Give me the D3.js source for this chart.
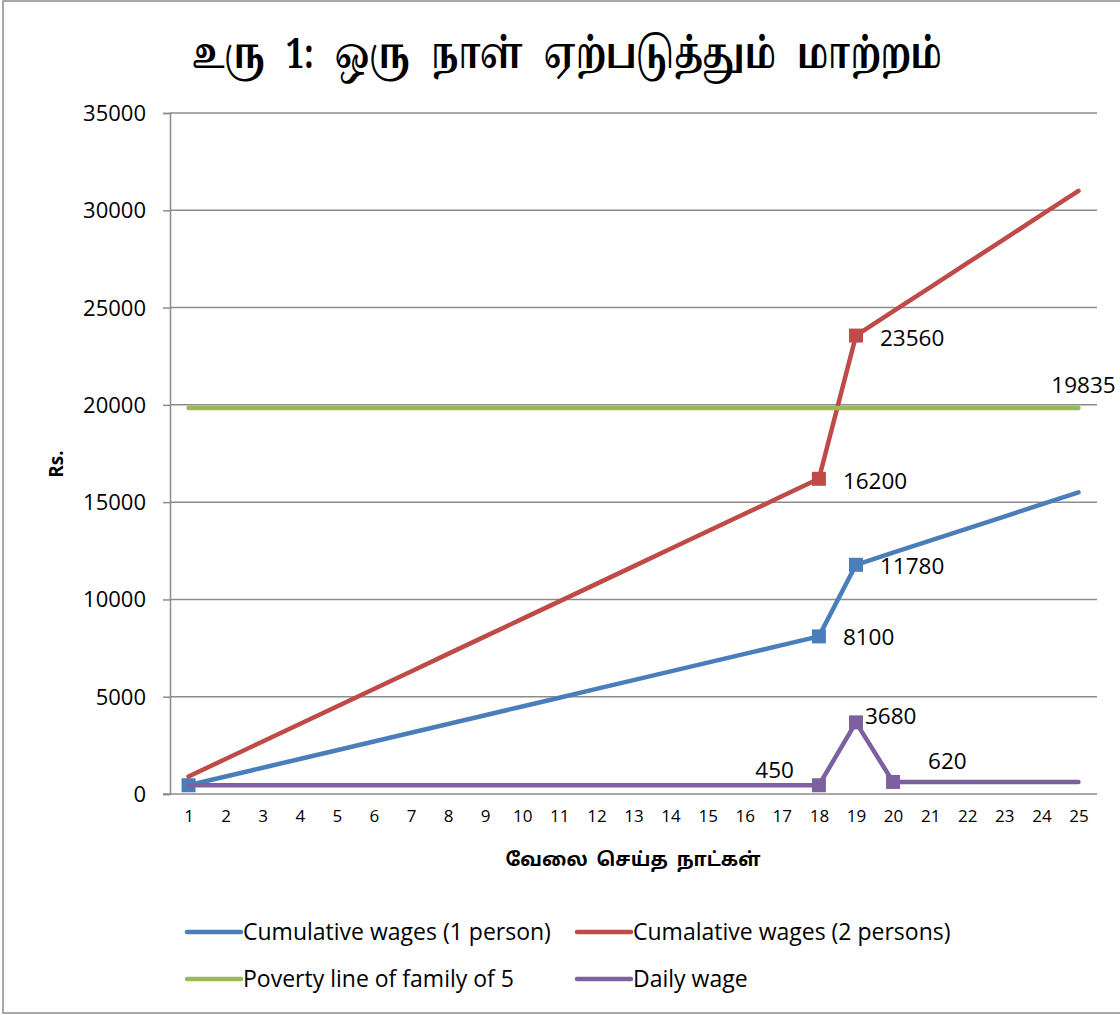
<!DOCTYPE html>
<html>
<head>
<meta charset="utf-8">
<script src="https://cdn.jsdelivr.net/npm/d3@7"></script>
<style>
  body { margin: 0; background: #fff; }
  svg text { font-family: "Open Sans", "Noto Sans", sans-serif; fill: #000; }
</style>
</head>
<body>
<div id="chart"></div>
<script>
// days worked
var days = d3.range(1, 26);

// series values
var oneWage = [450, 900, 1350, 1800, 2250, 2700, 3150, 3600, 4050, 4500, 4950, 5400, 5850, 6300, 6750, 7200, 7650, 8100,
               11780, 12400, 13020, 13640, 14260, 14880, 15500];
var twoWage = [900, 1800, 2700, 3600, 4500, 5400, 6300, 7200, 8100, 9000, 9900, 10800, 11700, 12600, 13500, 14400, 15300, 16200,
               23560, 24800, 26040, 27280, 28520, 29760, 31000];
var povertyLine = days.map(function() { return 19835; });
var dailyWage = [450, 450, 450, 450, 450, 450, 450, 450, 450, 450, 450, 450, 450, 450, 450, 450, 450, 450,
                 3680, 620, 620, 620, 620, 620, 620];

var seriesNames = ["Cumulative wages (1 person)", "Cumalative wages (2 persons)", "Poverty line of family of 5", "Daily wage"];
var seriesColors = ["#4a7ebb", "#be4b48", "#98b954", "#7d60a0"];
var markerDays = [[1, 18, 19], [18, 19], [], [18, 19, 20]];
var yTicks = [0, 5000, 10000, 15000, 20000, 25000, 30000, 35000];

// data labels: series index, day, text, offset
var labels = [
    { s: 1, day: 19, text: "23560", dx: 24, dy: 10, anchor: "start" },
    { s: 1, day: 18, text: "16200", dx: 24, dy: 10, anchor: "start" },
    { s: 0, day: 19, text: "11780", dx: 24, dy: 9, anchor: "start" },
    { s: 0, day: 18, text: "8100", dx: 24, dy: 9, anchor: "start" },
    { s: 2, day: 25, text: "19835", dx: 5, dy: -15, anchor: "middle" },
    { s: 3, day: 19, text: "3680", dx: 9, dy: 2, anchor: "start" },
    { s: 3, day: 18, text: "450", dx: -25, dy: -7, anchor: "end" },
    { s: 3, day: 20, text: "620", dx: 35, dy: -13, anchor: "start" }
];

var allSeries = [oneWage, twoWage, povertyLine, dailyWage];

var width = 1120, height = 1015;
var margin = { top: 113, left: 170, right: 1097, bottom: 794 };

var svg = d3.select("#chart").append("svg")
    .attr("width", width)
    .attr("height", height);

// outer frame
svg.append("rect")
    .attr("x", 3).attr("y", 1)
    .attr("width", 1125).attr("height", 1012)
    .attr("fill", "none").attr("stroke", "#8c8c8c").attr("stroke-width", 1.5);

var x = d3.scalePoint()
    .domain(days)
    .range([margin.left, margin.right])
    .padding(0.5);

var y = d3.scaleLinear()
    .domain([0, 35000])
    .range([margin.bottom, margin.top]);

// gridlines
svg.append("g")
    .selectAll("line")
    .data(yTicks.slice(1))
    .enter()
    .append("line")
    .attr("x1", margin.left).attr("x2", margin.right)
    .attr("y1", function(d) { return y(d); })
    .attr("y2", function(d) { return y(d); })
    .attr("stroke", "#8c8c8c").attr("stroke-width", 1.5);

// y axis
var yAxis = svg.append("g")
    .attr("transform", "translate(" + margin.left + ",0)")
    .call(d3.axisLeft(y).tickValues(yTicks).tickSize(7).tickPadding(17).tickFormat(d3.format("d")));
yAxis.selectAll("line, path").attr("stroke", "#8c8c8c").attr("stroke-width", 1.5);
yAxis.selectAll("text").style("font-size", "22px").attr("dy", "0.34em");

// x axis
var xAxis = svg.append("g")
    .attr("transform", "translate(0," + margin.bottom + ")")
    .call(d3.axisBottom(x).tickSize(0).tickPadding(16));
xAxis.select(".domain").attr("d", "M" + (margin.left - 7) + ",0H" + margin.right)
    .attr("stroke", "#8c8c8c").attr("stroke-width", 1.5);
xAxis.selectAll("text").style("font-size", "17px");

// lines
var line = d3.line()
    .x(function(d, i) { return x(days[i]); })
    .y(function(d) { return y(d); });

allSeries.forEach(function(values, s) {
    var g = svg.append("g");
    g.append("path")
        .datum(values)
        .attr("d", line)
        .attr("fill", "none")
        .attr("stroke", seriesColors[s])
        .attr("stroke-width", 4.5)
        .attr("stroke-linecap", "round")
        .attr("stroke-linejoin", "round");
    g.selectAll("rect")
        .data(markerDays[s])
        .enter()
        .append("rect")
        .attr("x", function(d) { return x(d) - 7; })
        .attr("y", function(d) { return y(values[d - 1]) - 7; })
        .attr("width", 14).attr("height", 14)
        .attr("fill", seriesColors[s]);
});

// data labels
svg.append("g")
    .selectAll("text")
    .data(labels)
    .enter()
    .append("text")
    .attr("x", function(d) { return x(d.day) + d.dx; })
    .attr("y", function(d) { return y(allSeries[d.s][d.day - 1]) + d.dy; })
    .attr("text-anchor", function(d) { return d.anchor; })
    .style("font-size", "22.5px")
    .text(function(d) { return d.text; });

// title (condensed like the original Tamil face)
svg.append("text")
    .attr("transform", "translate(567,68) scale(0.8,1.05)")
    .attr("text-anchor", "middle")
    .style("font-size", "40px").style("font-weight", "bold")
    .style("word-spacing", "16px")
    .style("font-family", "'Latha', 'Noto Serif Tamil', 'Noto Sans Tamil', serif")
    .text("உரு 1: ஒரு நாள் ஏற்படுத்தும் மாற்றம்");

// axis titles
svg.append("text")
    .attr("x", 633).attr("y", 866)
    .attr("text-anchor", "middle")
    .style("font-size", "19px").style("font-weight", "bold")
    .style("word-spacing", "4px")
    .style("font-family", "'Latha', 'Noto Sans Tamil', sans-serif")
    .text("வேலை செய்த நாட்கள்");

svg.append("text")
    .attr("transform", "translate(63,464) rotate(-90)")
    .attr("text-anchor", "middle")
    .style("font-size", "19px").style("font-weight", "bold")
    .text("Rs.");

// legend
var legendPos = [[185, 932], [575, 932], [185, 979], [575, 979]];
var legend = svg.append("g")
    .selectAll("g")
    .data(seriesNames)
    .enter()
    .append("g")
    .attr("transform", function(d, i) { return "translate(" + legendPos[i][0] + "," + legendPos[i][1] + ")"; });

legend.append("line")
    .attr("x1", 2).attr("x2", 56)
    .attr("stroke", function(d, i) { return seriesColors[i]; })
    .attr("stroke-width", 4.5)
    .attr("stroke-linecap", "round");

legend.append("text")
    .attr("x", 58).attr("dy", "0.35em")
    .style("font-size", "23px")
    .text(function(d) { return d; });
</script>
</body>
</html>
